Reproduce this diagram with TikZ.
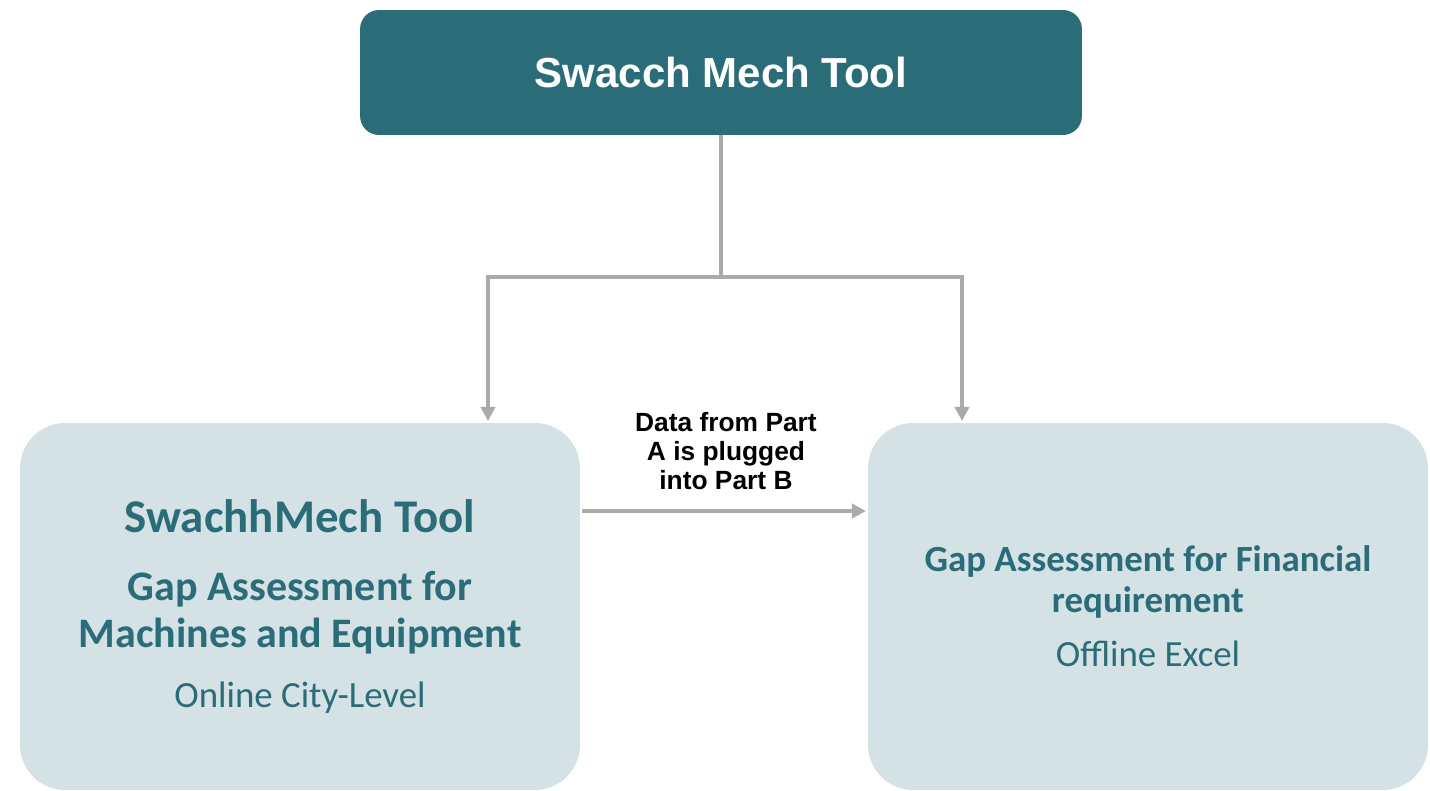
\documentclass[tikz,border=0pt]{standalone}
\usepackage{fontspec}
\setmainfont{Liberation Sans}
\newfontfamily\calibri{Carlito}
\usetikzlibrary{arrows.meta}
\definecolor{toolteal}{RGB}{43,108,121}
\definecolor{partfill}{RGB}{212,225,229}
\definecolor{linkgray}{RGB}{172,169,169}
\tikzstyle{toolbox}=[rectangle, rounded corners=0.38cm, fill=toolteal, text=white, font=\bfseries\fontsize{23.9}{28}\selectfont, minimum width=14.44cm, minimum height=2.5cm]
\tikzstyle{partbox}=[rectangle, rounded corners=0.9cm, fill=partfill, text=toolteal, align=center, minimum width=11.2cm, minimum height=7.34cm]
\tikzstyle{note}=[align=center, inner sep=0pt, font=\bfseries\fontsize{15}{16.5}\selectfont]
\tikzstyle{link}=[draw=linkgray, line width=2.2pt, -{Triangle[length=8pt,width=8pt]}]

\begin{document}
\begin{tikzpicture}[x=0.02cm, y=-0.02cm]
		   \useasboundingbox (0,0) rectangle (1430,791);
		   \begin{scope}
			   \node (tool) at (721, 72.5)[toolbox] {Swacch Mech Tool};
			   \node (partA) at (300, 606.5)[partbox, font=\calibri\fontsize{21}{26.7}\selectfont] {%
				   {\bfseries\fontsize{26.7}{26.7}\selectfont SwachhMech Tool}\\[12pt]
				   {\bfseries\fontsize{23.9}{26.7}\selectfont Gap Assessment for}\\
				   {\bfseries\fontsize{23.9}{26.7}\selectfont Machines and Equipment}\\[7.5pt]
				   Online City-Level};
			   \node (partB) at (1148, 606.5)[partbox, font=\calibri\fontsize{21}{23.3}\selectfont] {%
				   \textbf{Gap Assessment for Financial}\\
				   \textbf{requirement}\\[7.4pt]
				   Offline Excel};
			   \node (plug) at (726, 490)[note, anchor=south] {Data from Part\\A is plugged\\into Part B};
		   \end{scope}
		   \begin{scope}
			   \coordinate (split) at (721, 277);
			   \coordinate (toA) at (488, 421);
			   \coordinate (toB) at (962, 421);
			   \coordinate (outA) at (582, 511);
			   \coordinate (inB) at (866, 511);
			   \draw [link, -] (tool) -- (split);
			   \draw [link] (split) -| (toA);
			   \draw [link] (split) -| (toB);
			   \draw [link] (outA) -- (inB);
		   \end{scope}
	   \end{tikzpicture}
\end{document}
